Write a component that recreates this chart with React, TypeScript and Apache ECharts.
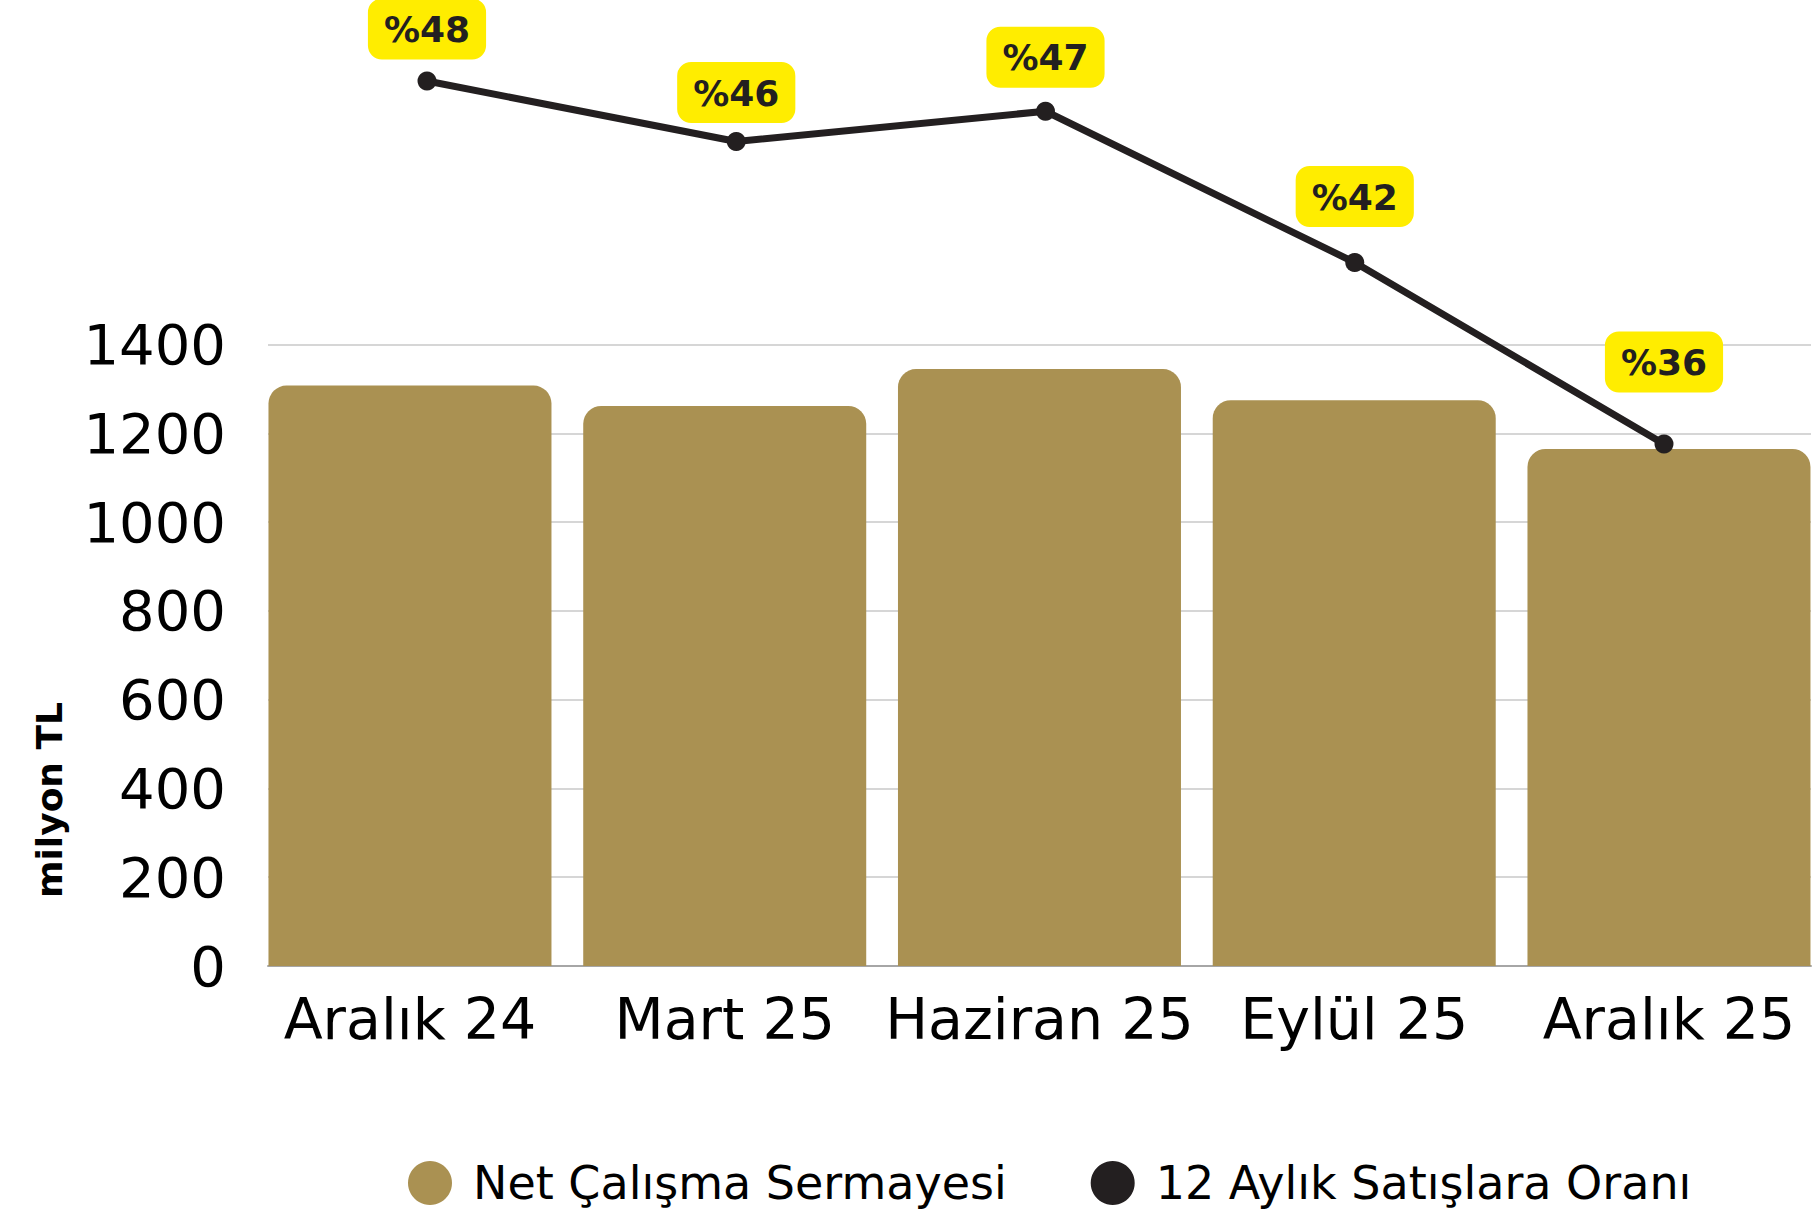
import React, { useEffect, useRef } from "react";
import * as echarts from "echarts";

const categories = ["Aralık 24", "Mart 25", "Haziran 25", "Eylül 25", "Aralık 25"];
const capitalValues = [1308, 1262, 1345, 1275, 1165];
const salesRatio = [48, 46, 47, 42, 36];
const ratioLabelLift = [12, 9, 14, 26, 42];
const seriesNames = ["Net Çalışma Sermayesi", "12 Aylık Satışlara Oranı"];
const yAxisTitle = "milyon TL";

const FONT = "'DejaVu Sans', sans-serif";
const GOLD = "#AA9152";
const DARK = "#231F20";
const CANVAS_W = 1840;

export default function App() {
  const ref = useRef<HTMLDivElement>(null);

  useEffect(() => {
    if (!ref.current) return;
    const chart = echarts.init(ref.current, null, { renderer: "svg" });
    const option: any = {
      animation: false,
      backgroundColor: "#ffffff",
      textStyle: { fontFamily: FONT },
      grid: [
        { left: 268, width: 1543, top: 344.7, bottom: 248 },
        { left: 252.6, width: 1573.75, top: 344.7, bottom: 248 },
        { left: 427, width: 1237, top: 20.5, bottom: 588.5 },
      ],
      xAxis: [
        {
          gridIndex: 0,
          type: "category",
          data: categories,
          axisLine: { show: true, lineStyle: { color: "#a6a6a6", width: 2 } },
          axisTick: { show: false },
          axisLabel: { show: false },
          splitLine: { show: false },
        },
        {
          gridIndex: 1,
          type: "category",
          data: categories,
          axisLine: { show: false },
          axisTick: { show: false },
          axisLabel: {
            show: true,
            interval: 0,
            fontSize: 57,
            color: "#000",
            margin: 24,
            fontFamily: FONT,
          },
        },
        {
          gridIndex: 2,
          type: "category",
          data: categories,
          boundaryGap: false,
          show: false,
        },
      ],
      yAxis: [
        {
          gridIndex: 0,
          type: "value",
          min: 0,
          max: 1400,
          interval: 200,
          axisLine: { show: false },
          axisTick: { show: false },
          axisLabel: {
            fontSize: 56,
            color: "#000",
            margin: 42,
            fontFamily: FONT,
            formatter: (v: number) => String(v),
          },
          splitLine: { show: true, lineStyle: { color: "#c8c8c8", width: 1.5 } },
        },
        {
          gridIndex: 1,
          type: "value",
          min: 0,
          max: 1400,
          show: false,
          splitLine: { show: false },
        },
        {
          gridIndex: 2,
          type: "value",
          min: 30,
          max: 50,
          show: false,
          splitLine: { show: false },
        },
      ],
      legend: {
        left: 408,
        top: 1160,
        padding: 0,
        itemGap: 84,
        itemWidth: 44,
        itemHeight: 44,
        icon: "circle",
        data: seriesNames,
        textStyle: { fontSize: 46, color: "#000", fontFamily: FONT, padding: [0, 0, 0, 16] },
      },
      graphic: [
        {
          type: "text",
          x: 49,
          y: 800,
          rotation: Math.PI / 2,
          style: {
            text: yAxisTitle,
            fontSize: 36,
            fontWeight: "bold",
            fontFamily: FONT,
            fill: "#000",
            align: "center",
            verticalAlign: "middle",
          },
        },
      ],
      series: [
        {
          name: seriesNames[0],
          type: "bar",
          xAxisIndex: 1,
          yAxisIndex: 1,
          data: capitalValues,
          barWidth: 283,
          itemStyle: { color: GOLD, borderRadius: [18, 18, 0, 0] },
        },
        {
          name: seriesNames[1],
          type: "line",
          xAxisIndex: 2,
          yAxisIndex: 2,
          clip: false,
          z: 5,
          data: salesRatio.map((v, i) => ({ value: v, label: { distance: ratioLabelLift[i] } })),
          symbol: "circle",
          symbolSize: 19,
          itemStyle: { color: DARK },
          lineStyle: { color: DARK, width: 7 },
          label: {
            show: true,
            position: "top",
            formatter: "%{c}",
            fontSize: 36,
            fontWeight: "bold",
            fontFamily: FONT,
            color: DARK,
            backgroundColor: "#FFED00",
            borderRadius: 14,
            padding: [13, 16, 12, 16],
          },
        },
      ],
    };
    chart.setOption(option);
    return () => chart.dispose();
  }, []);

  return (
    <div
      style={{
        position: "fixed",
        left: 0,
        top: 0,
        width: 1814,
        height: 1214,
        overflow: "hidden",
        background: "#fff",
      }}
    >
      <div ref={ref} style={{ width: CANVAS_W, height: 1214 }} />
    </div>
  );
}
